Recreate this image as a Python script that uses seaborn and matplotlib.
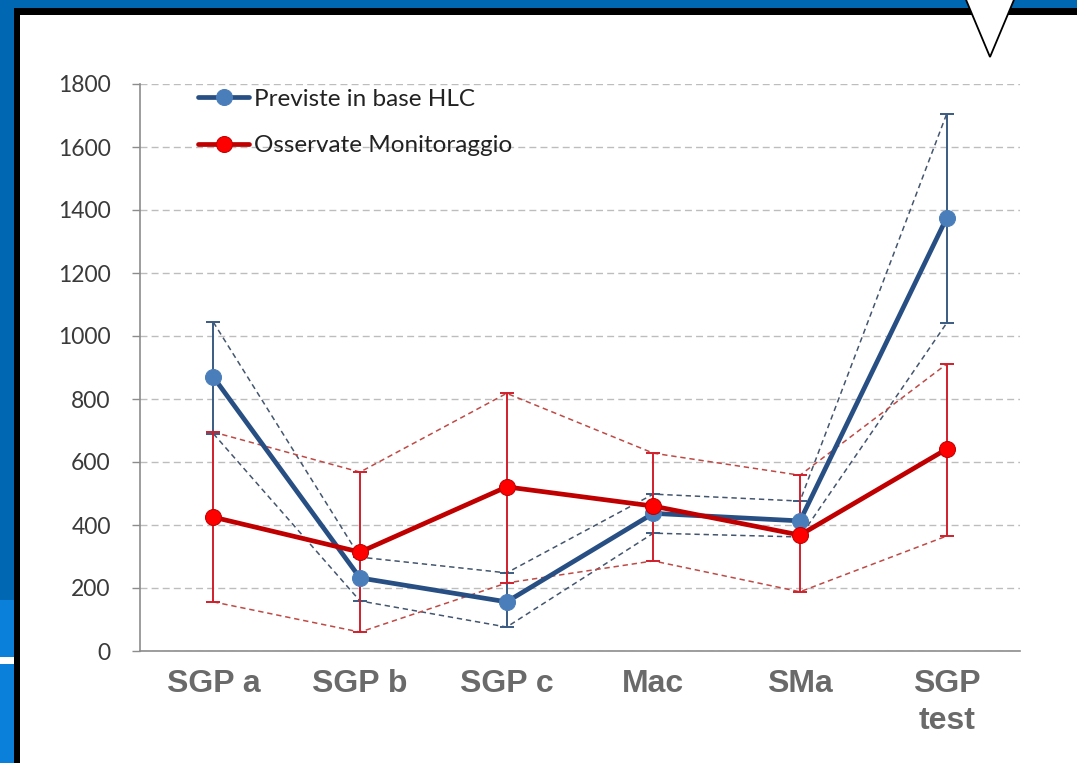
import numpy as np
import pandas as pd
import seaborn as sns
import matplotlib.pyplot as plt
from matplotlib.patches import Rectangle, Polygon

# data
categories = ["SGP a", "SGP b", "SGP c", "Mac", "SMa", "SGP\ntest"]
previste = [870, 232, 156, 437, 413, 1375]
previste_hi = [1044, 298, 248, 498, 476, 1705]
previste_lo = [690, 159, 76, 374, 362, 1041]
osservate = [425, 314, 521, 460, 368, 641]
osservate_hi = [695, 568, 818, 628, 558, 911]
osservate_lo = [156, 60, 216, 286, 188, 365]
y_ticks = [0, 200, 400, 600, 800, 1000, 1200, 1400, 1600, 1800]

W, H = 1077, 763

sns.set_theme(style="white")
plt.rcParams["font.family"] = ["Lato", "DejaVu Sans"]

fig = plt.figure(figsize=(W / 100, H / 100), dpi=100, facecolor="#0067B2")


def px(x, y):
    return (x / W, 1 - y / H)


# slide frame (behind the axes)
frame = [
    Rectangle(px(0, 763), 14 / W, 163 / H, facecolor="#0B80DA"),
    Rectangle(px(0, 664), 14 / W, 7 / H, facecolor="white"),
    Rectangle(px(14, 770), 1.1, (770 - 8) / H, facecolor="black"),
    Rectangle(px(20, 770), 1.1, (770 - 15) / H, facecolor="white"),
]
for p in frame:
    p.set_transform(fig.transFigure)
    p.set_edgecolor("none")
    p.set_zorder(-5)
    fig.add_artist(p)
fig.add_artist(Polygon([px(964, -5), px(1016, -5), px(990, 57)], closed=True,
                       transform=fig.transFigure, facecolor="white",
                       edgecolor="black", linewidth=1.3, zorder=-4))

ax = fig.add_axes([140 / W, 1 - 651 / H, 880 / W, 567 / H])
ax.set_facecolor("none")

xpos = np.arange(len(categories))
df = pd.DataFrame({
    "x": xpos,
    "previste": previste, "previste_hi": previste_hi, "previste_lo": previste_lo,
    "osservate": osservate, "osservate_hi": osservate_hi, "osservate_lo": osservate_lo,
})

blue_line, blue_face, blue_dash = "#274F83", "#4A7EBB", "#44566F"
red_line, red_face, red_dash = "#C00000", "#FF0000", "#BF4A45"

# dashed envelopes
for col in ["previste_hi", "previste_lo"]:
    sns.lineplot(data=df, x="x", y=col, ax=ax, color=blue_dash, linewidth=1.1,
                 linestyle=(0, (3.5, 2.5)), legend=False, zorder=2)
for col in ["osservate_hi", "osservate_lo"]:
    sns.lineplot(data=df, x="x", y=col, ax=ax, color=red_dash, linewidth=1.1,
                 linestyle=(0, (3.5, 2.5)), legend=False, zorder=2)

# error bars
ax.errorbar(df["x"], df["previste"],
            yerr=[df["previste"] - df["previste_lo"], df["previste_hi"] - df["previste"]],
            fmt="none", ecolor="#3B5B82", elinewidth=1.4, capsize=5, capthick=1.4, zorder=3)
ax.errorbar(df["x"], df["osservate"],
            yerr=[df["osservate"] - df["osservate_lo"], df["osservate_hi"] - df["osservate"]],
            fmt="none", ecolor="#D0202C", elinewidth=1.4, capsize=5, capthick=1.4, zorder=3)

# main series
sns.lineplot(data=df, x="x", y="previste", ax=ax, color=blue_line, linewidth=3.4,
             marker="o", markersize=11.5, markerfacecolor=blue_face,
             markeredgecolor=blue_face, label="Previste in base HLC", zorder=4)
sns.lineplot(data=df, x="x", y="osservate", ax=ax, color=red_line, linewidth=3.4,
             marker="o", markersize=11.5, markerfacecolor=red_face,
             markeredgecolor=red_line, label="Osservate Monitoraggio", zorder=5)

ax.set_xlim(-0.5, len(categories) - 0.5)
ax.set_ylim(0, 1800)
ax.set_yticks(y_ticks)
ax.set_yticklabels([str(v) for v in y_ticks], fontsize=16.5, color="#3A3A3A")
ax.yaxis.grid(True, color="#BDBDBD", linestyle=(0, (5, 3)), linewidth=1.0)
ax.xaxis.grid(False)
ax.set_axisbelow(True)

ax.set_xticks(np.arange(len(categories) + 1) - 0.5)
ax.set_xticklabels([])
ax.set_xticks(xpos, minor=True)
ax.set_xticklabels(categories, minor=True, fontsize=23, fontweight="bold",
                   color="#6A6A6A", linespacing=1.3,
                   family=["Liberation Sans", "DejaVu Sans"])
ax.tick_params(axis="x", which="major", direction="out", length=8, width=1, color="#8C8C8C")
ax.tick_params(axis="x", which="minor", length=0, pad=13)
ax.tick_params(axis="y", direction="out", length=6, width=1, color="#8C8C8C", pad=15, left=True)

ax.set_xlabel("")
ax.set_ylabel("")
for side in ["top", "right"]:
    ax.spines[side].set_visible(False)
for side in ["left", "bottom"]:
    ax.spines[side].set_color("#8C8C8C")
    ax.spines[side].set_linewidth(1.2)

leg = ax.legend(loc="upper left", bbox_to_anchor=(0.066, 0.992), frameon=False,
                fontsize=17.5, handlelength=2.1, handletextpad=0.2, labelspacing=1.05,
                borderpad=0, borderaxespad=0)
for t in leg.get_texts():
    t.set_color("#222222")

fig.savefig("out.png", dpi=100, facecolor=fig.get_facecolor())
